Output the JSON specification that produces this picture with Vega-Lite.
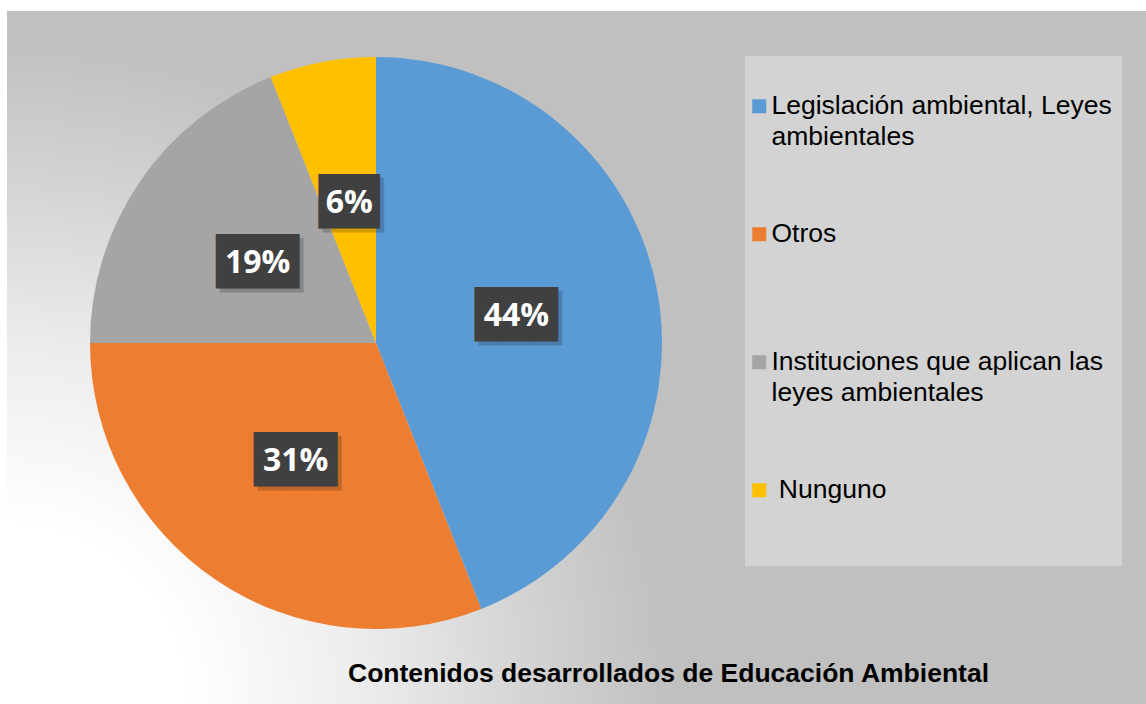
{
  "$schema": "https://vega.github.io/schema/vega-lite/v6.json",
  "padding": {"left": 7, "top": 11, "right": 0, "bottom": 0},
  "background": "#ffffff",
  "datasets": {
    "d": [
      {"cat": "Legislación ambiental, Leyes ambientales", "pct": 0.44, "orden": 1},
      {"cat": "Otros", "pct": 0.31, "orden": 2},
      {"cat": "Instituciones que aplican las leyes ambientales", "pct": 0.19, "orden": 3},
      {"cat": "Nunguno", "pct": 0.06, "orden": 4}
    ]
  },
  "data": {"name": "d"},
  "title": {
    "text": "Contenidos desarrollados de Educación Ambiental",
    "orient": "bottom", "anchor": "start", "frame": "group",
    "offset": -22, "dx": 341, "baseline": "alphabetic",
    "font": "Liberation Sans", "fontSize": 26.5, "fontWeight": "bold", "color": "#000000"
  },
  "spacing": 0,
  "resolve": {"legend": {"color": "independent"}},
  "hconcat": [
    {
      "spacing": 0,
      "resolve": {"legend": {"color": "independent"}},
      "vconcat": [
        {
          "width": 738, "height": 664,
          "view": {"stroke": null, "fill": {"gradient": "radial", "x1": 0, "y1": 0.989, "r1": 0, "x2": 0, "y2": 0.989, "r2": 0.9,
            "stops": [{"offset": 0, "color": "#ffffff"}, {"offset": 0.27, "color": "#ffffff"}, {"offset": 0.54, "color": "#ececec"}, {"offset": 0.77, "color": "#d5d5d5"}, {"offset": 1, "color": "#c0c0c0"}]}},
          "encoding": {
            "theta": {"field": "pct", "type": "quantitative", "stack": true},
            "order": {"field": "orden", "type": "quantitative", "sort": "ascending"},
            "color": {"field": "cat", "type": "nominal",
              "scale": {"domain": ["Legislación ambiental, Leyes ambientales", "Otros", "Instituciones que aplican las leyes ambientales", "Nunguno"],
                        "range": ["#5b9bd5", "#ed7d31", "#a5a5a5", "#ffc000"]},
              "legend": null}
          },
          "layer": [
            {"mark": {"type": "arc", "outerRadius": 286, "stroke": null}},
            {"mark": {"type": "text", "radius": 143, "font": "DejaVu Sans Mono", "fontSize": 46, "align": "center", "baseline": "middle", "dx": 4, "dy": 4, "opacity": 0.18},
             "encoding": {
               "text": {"condition": {"test": "datum.pct < 0.1", "value": "▕██▏"}, "value": "███"},
               "color": {"value": "#000000"}
             }},
            {"mark": {"type": "text", "radius": 143, "font": "DejaVu Sans Mono", "fontSize": 46, "align": "center", "baseline": "middle"},
             "encoding": {
               "text": {"condition": {"test": "datum.pct < 0.1", "value": "▕██▏"}, "value": "███"},
               "color": {"value": "#404040"}
             }},
            {"mark": {"type": "text", "radius": 143, "font": "Open Sans", "fontWeight": "bold", "fontSize": 32, "align": "center", "baseline": "middle"},
             "encoding": {
               "text": {"field": "pct", "type": "quantitative", "format": ".0%"},
               "color": {"value": "#ffffff"}
             }}
          ]
        },
        {
          "width": 738, "height": 29,
          "view": {"stroke": null, "fill": {"gradient": "radial", "x1": 0, "y1": 0.5196, "r1": 0, "x2": 0, "y2": 0.5196, "r2": 0.9,
            "stops": [{"offset": 0, "color": "#ffffff"}, {"offset": 0.27, "color": "#ffffff"}, {"offset": 0.54, "color": "#ececec"}, {"offset": 0.77, "color": "#d5d5d5"}, {"offset": 1, "color": "#c0c0c0"}]}},
          "mark": {"type": "text", "text": ""}
        }
      ]
    },
    {
      "spacing": 0,
      "resolve": {"legend": {"color": "independent"}},
      "vconcat": [
        {"width": 401, "height": 45, "view": {"stroke": null, "fill": "#c0c0c0"}, "mark": {"type": "text", "text": ""}},
        {
          "spacing": 0,
          "resolve": {"legend": {"color": "independent"}},
          "hconcat": [
            {
              "width": 377, "height": 510,
              "view": {"stroke": null, "fill": "#d3d3d3"},
              "mark": {"type": "text", "text": ""},
              "encoding": {
                "color": {"field": "cat", "type": "nominal",
                  "scale": {"domain": ["Legislación ambiental, Leyes ambientales", "Otros", "Instituciones que aplican las leyes ambientales", "Nunguno"],
                            "range": ["#5b9bd5", "#ed7d31", "#a5a5a5", "#ffc000"]},
                  "legend": {
                    "orient": "none", "legendX": 1, "legendY": 37, "padding": 0,
                    "title": null,
                    "symbolType": "square", "symbolSize": 196, "symbolStrokeWidth": 0, "symbolOpacity": 1,
                    "labelFont": "Liberation Sans", "labelFontSize": 26.5, "labelColor": "#000000",
                    "labelLimit": 400, "labelOffset": -1, "rowPadding": 70,
                    "labelExpr": "datum.label == 'Legislación ambiental, Leyes ambientales' ? ['Legislación ambiental, Leyes', 'ambientales'] : datum.label == 'Instituciones que aplican las leyes ambientales' ? ['Instituciones que aplican las', 'leyes ambientales'] : datum.label == 'Nunguno' ? ['\u200b\u00a0Nunguno', ''] : [datum.label, '']",
                    "encode": {"labels": {"update": {"lineHeight": {"value": 31}}}}
                  }
                }
              }
            },
            {"width": 24, "height": 510, "view": {"stroke": null, "fill": "#c0c0c0"}, "mark": {"type": "text", "text": ""}}
          ]
        },
        {"width": 401, "height": 138, "view": {"stroke": null, "fill": "#c0c0c0"}, "mark": {"type": "text", "text": ""}}
      ]
    }
  ],
  "config": {"view": {"stroke": null}}
}
